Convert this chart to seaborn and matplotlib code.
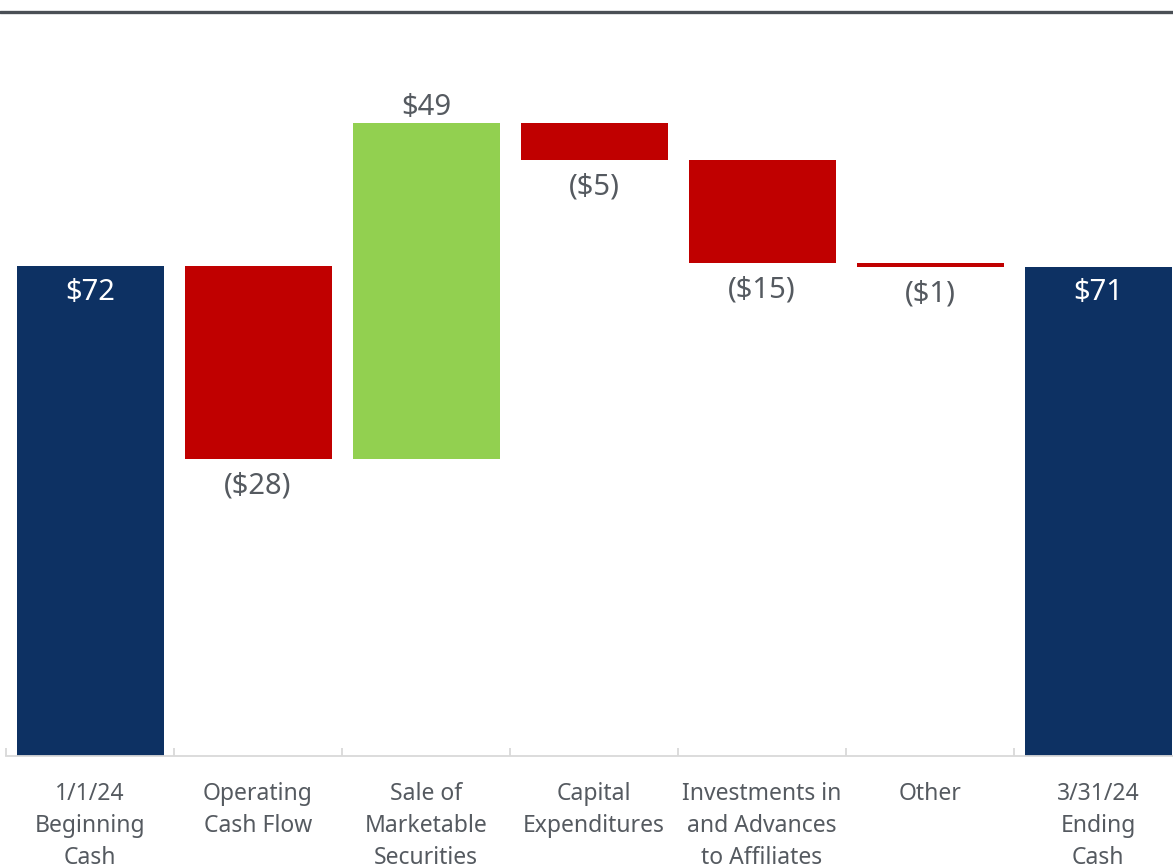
import numpy as np
import pandas as pd
import seaborn as sns
import matplotlib.pyplot as plt
from matplotlib.lines import Line2D

# ================================
# Data ($ millions)
# ================================
categories = ["1/1/24\nBeginning\nCash", "Operating\nCash Flow", "Sale of\nMarketable\nSecurities",
              "Capital\nExpenditures", "Investments in\nand Advances\nto Affiliates", "Other",
              "3/31/24\nEnding\nCash"]
beginning_cash = 72.0
changes = [-28.3, 49.4, -5.5, -15.1, -0.6]
value_labels = ["$72", "($28)", "$49", "($5)", "($15)", "($1)", "$71"]

NAVY = "#0d3163"
RED = "#c00000"
GREEN = "#92d050"
TEXT = "#555a60"

# build floating bars
running = np.cumsum([beginning_cash] + changes)
ending_cash = running[-1]
bottoms, heights, kinds = [0.0], [beginning_cash], ["total"]
prev = beginning_cash
for ch in changes:
    bottoms.append(min(prev, prev + ch))
    heights.append(abs(ch))
    kinds.append("up" if ch > 0 else "down")
    prev += ch
bottoms.append(0.0)
heights.append(ending_cash)
kinds.append("total")

df = pd.DataFrame({"category": categories, "height": heights, "bottom": bottoms, "kind": kinds})
colors = {"total": NAVY, "up": GREEN, "down": RED}

# ================================
# Plot
# ================================
sns.set_theme(style="white")
plt.rcParams["font.family"] = ["Noto Sans", "DejaVu Sans"]

fig = plt.figure(figsize=(11.73, 8.68), dpi=100)
ax = fig.add_axes([6 / 1173, (868 - 756) / 868, 1 - 6 / 1173, (756 - 12) / 868])

sns.barplot(data=df, x="category", y="height", bottom=df["bottom"].values, order=categories,
            color=NAVY, saturation=1, width=0.875, ax=ax)
for patch, kind in zip(ax.patches, kinds):
    patch.set_facecolor(colors[kind])
    patch.set_edgecolor("none")

# value labels
for i, (b, h, kind, txt) in enumerate(zip(bottoms, heights, kinds, value_labels)):
    if kind == "total":
        ax.annotate(txt, (i, b + h), xytext=(0, -18.5), textcoords="offset points",
                    ha="center", va="center", color="white", fontsize=21)
    elif kind == "up":
        ax.annotate(txt, (i, b + h), xytext=(0, 11), textcoords="offset points",
                    ha="center", va="center", color=TEXT, fontsize=21)
    else:
        ax.annotate(txt, (i, b), xytext=(0, -19.5), textcoords="offset points",
                    ha="center", va="center", color=TEXT, fontsize=21)

ax.set_xlabel("")
ax.set_ylabel("")
ax.set_yticks([])

for side in ["top", "right", "left"]:
    ax.spines[side].set_visible(False)
ax.spines["bottom"].set_color("#d9d9d9")
ax.spines["bottom"].set_linewidth(1.3)

ax.set_xticks(range(len(categories)))
ax.set_xticklabels(categories, fontsize=16.5, color=TEXT, linespacing=1.42)
ax.set_xticks(np.arange(-0.5, len(categories), 1.0), minor=True)
ax.tick_params(axis="x", which="major", length=0, pad=19)
ax.tick_params(axis="x", which="minor", bottom=True, length=6, direction="in",
               color="#d9d9d9", width=1.3)

# limits last, set_xticks widens the view otherwise
ax.set_xlim(-0.5, -0.5 + (1173 - 6) / 168)
ax.set_ylim(0, (756 - 12) / 6.8)

# dark rule at the top of the slide
fig.add_artist(Line2D([0, 1], [1 - 12 / 868, 1 - 12 / 868], transform=fig.transFigure,
                      color="#4a4f55", linewidth=2.4))

fig.savefig("out.png", dpi=100)
